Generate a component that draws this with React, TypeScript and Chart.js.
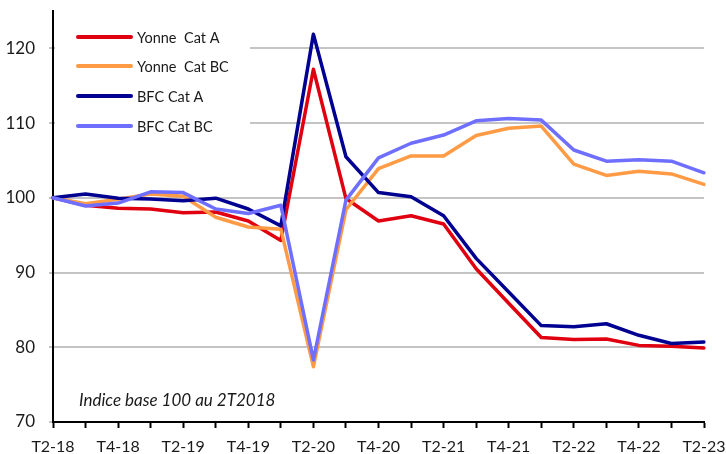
import React, { useEffect, useRef } from "react";
import { Chart, registerables } from "chart.js";

Chart.register(...registerables);

const quarters = [
  "T2-18", "T3-18", "T4-18", "T1-19", "T2-19", "T3-19", "T4-19", "T1-20", "T2-20", "T3-20",
  "T4-20", "T1-21", "T2-21", "T3-21", "T4-21", "T1-22", "T2-22", "T3-22", "T4-22", "T1-23", "T2-23",
];

const yonneCatA = [100, 99.0, 98.6, 98.5, 98.0, 98.1, 96.9, 94.3, 117.2, 99.9, 96.9, 97.6, 96.5, 90.5, 85.9, 81.3, 81.05, 81.1, 80.25, 80.15, 79.9];
const yonneCatBC = [100, 99.2, 99.8, 100.5, 100.2, 97.4, 96.1, 95.8, 77.4, 98.4, 103.9, 105.6, 105.6, 108.35, 109.3, 109.6, 104.5, 103.0, 103.55, 103.2, 101.8];
const bfcCatA = [100, 100.5, 99.95, 99.85, 99.6, 99.95, 98.5, 96.25, 121.9, 105.5, 100.7, 100.15, 97.6, 91.9, 87.4, 82.9, 82.75, 83.15, 81.6, 80.5, 80.7];
const bfcCatBC = [100, 98.9, 99.3, 100.8, 100.7, 98.5, 97.9, 99.0, 78.3, 99.7, 105.35, 107.3, 108.4, 110.3, 110.6, 110.4, 106.4, 104.9, 105.1, 104.9, 103.35];

const yTicks = [70, 80, 90, 100, 110, 120];

const seriesNames = ["Yonne  Cat A", "Yonne  Cat BC", "BFC Cat A", "BFC Cat BC"];
const seriesColors = ["#E1000F", "#FF9A45", "#000091", "#6E6EFF"];
const annotationText = "Indice base 100 au 2T2018";

const FONT = "Lato, 'Open Sans', sans-serif";

export default function App() {
  const canvasRef = useRef<HTMLCanvasElement | null>(null);

  useEffect(() => {
    document.body.style.margin = "0";
    const canvas = canvasRef.current;
    if (!canvas) return;

    const overlay = {
      id: "overlay",
      beforeDatasetsDraw(chart: any) {
        const ctx = chart.ctx;
        ctx.save();
        ctx.fillStyle = "#ffffff";
        ctx.fillRect(55, 14, 195, 126);
        const rows = [37, 66, 96, 126];
        seriesNames.forEach((name, i) => {
          ctx.strokeStyle = seriesColors[i];
          ctx.lineWidth = 4;
          ctx.lineCap = "round";
          ctx.beginPath();
          ctx.moveTo(78, rows[i]);
          ctx.lineTo(131, rows[i]);
          ctx.stroke();
          ctx.fillStyle = "#1a1a1a";
          ctx.font = `14.5px ${FONT}`;
          ctx.textBaseline = "middle";
          ctx.textAlign = "left";
          ctx.fillText(name, 137, rows[i] + 1);
        });
        ctx.fillStyle = "#1a1a1a";
        ctx.font = `italic 17px ${FONT}`;
        ctx.textBaseline = "alphabetic";
        ctx.fillText(annotationText, 79, 406);
        ctx.restore();
      },
    };

    const makeDs = (label: string, data: number[], color: string, order: number) => ({
      label,
      data,
      borderColor: color,
      backgroundColor: color,
      borderWidth: 3.5,
      pointRadius: 0,
      tension: 0,
      borderJoinStyle: "round",
      borderCapStyle: "round",
      order,
    });

    const chart = new Chart(canvas, {
      type: "line",
      data: {
        labels: quarters,
        datasets: [
          makeDs(seriesNames[0], yonneCatA, seriesColors[0], 3),
          makeDs(seriesNames[1], yonneCatBC, seriesColors[1], 2),
          makeDs(seriesNames[2], bfcCatA, seriesColors[2], 1),
          makeDs(seriesNames[3], bfcCatBC, seriesColors[3], 0),
        ] as any,
      },
      options: {
        animation: false,
        responsive: false,
        maintainAspectRatio: false,
        layout: { padding: { top: 11, right: 22, left: 0, bottom: 0 } },
        plugins: {
          legend: { display: false },
          tooltip: { enabled: false },
          title: { display: false },
        },
        scales: {
          x: {
            type: "category",
            offset: false,
            grid: {
              drawOnChartArea: false,
              drawTicks: true,
              tickLength: 6,
              tickColor: "#000000",
              tickWidth: 2,
            },
            border: { display: true, color: "#000000", width: 2 },
            ticks: {
              autoSkip: false,
              maxRotation: 0,
              minRotation: 0,
              padding: 9,
              color: "#1a1a1a",
              font: { family: FONT, size: 16 },
              callback: (_v: any, i: number) => (i % 2 === 0 ? quarters[i] : ""),
            },
            afterFit: (s: any) => {
              s.height = 32;
              s.paddingLeft = 0;
              s.paddingRight = 0;
            },
          },
          y: {
            type: "linear",
            min: 70,
            max: 125,
            afterBuildTicks: (s: any) => {
              s.ticks = yTicks.map((v) => ({ value: v }));
            },
            grid: {
              color: "#c4c4c4",
              lineWidth: 2,
              drawTicks: true,
              tickLength: 4,
              tickColor: "#c4c4c4",
            },
            border: { display: true, color: "#000000", width: 2 },
            ticks: {
              padding: 14,
              color: "#1a1a1a",
              font: { family: FONT, size: 17 },
            },
            afterFit: (s: any) => {
              s.width = 53;
              s.paddingTop = 0;
              s.paddingBottom = 0;
            },
          },
        },
      },
      plugins: [overlay],
    });

    return () => chart.destroy();
  }, []);

  return (
    <div style={{ width: 726, height: 454 }}>
      <canvas ref={canvasRef} width={726} height={454} style={{ display: "block" }} />
    </div>
  );
}
